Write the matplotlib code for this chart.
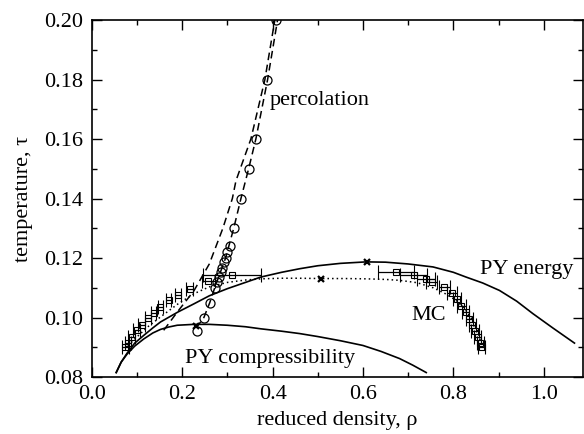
import matplotlib
matplotlib.use("Agg")
import matplotlib.pyplot as plt
from matplotlib.ticker import MultipleLocator

plt.rcParams['font.family'] = ['Liberation Serif', 'DejaVu Serif']

# PY energy route (solid)
py_en_x = [0.054, 0.065, 0.078, 0.095, 0.115, 0.135, 0.152, 0.190, 0.226, 0.260, 0.300, 0.340, 0.374,
           0.420, 0.460, 0.500, 0.550, 0.607, 0.650, 0.700, 0.755, 0.800, 0.828, 0.865, 0.902,
           0.940, 0.976, 1.020, 1.068]
py_en_y = [0.0815, 0.0850, 0.0880, 0.0914, 0.0940, 0.0965, 0.0985, 0.1018, 0.1046, 0.1073, 0.1097,
           0.1118, 0.1136, 0.1152, 0.1164, 0.1174, 0.1182, 0.1187, 0.1186, 0.1180, 0.1170, 0.1152,
           0.1136, 0.1116, 0.1091, 0.1055, 0.1013, 0.0965, 0.0914]

# PY compressibility route (solid)
py_co_x = [0.054, 0.065, 0.078, 0.095, 0.115, 0.135, 0.152, 0.170, 0.189, 0.226, 0.260, 0.300,
           0.340, 0.374, 0.420, 0.460, 0.500, 0.550, 0.600, 0.640, 0.681, 0.710, 0.740]
py_co_y = [0.0815, 0.0850, 0.0877, 0.0904, 0.0928, 0.0948, 0.0960, 0.0968, 0.0974, 0.0977, 0.0977,
           0.0974, 0.0969, 0.0962, 0.0954, 0.0946, 0.0936, 0.0922, 0.0906, 0.0886, 0.0862, 0.0840,
           0.0815]

# MC fit (dotted)
mc_fit_x = [0.080, 0.100, 0.125, 0.152, 0.190, 0.226, 0.260, 0.300, 0.340, 0.374, 0.420, 0.460,
            0.508, 0.560, 0.607, 0.650, 0.681, 0.720, 0.755, 0.780, 0.806, 0.825, 0.843, 0.855, 0.861]
mc_fit_y = [0.0905, 0.0935, 0.0970, 0.1002, 0.1045, 0.1080, 0.1103, 0.1118, 0.1126, 0.1130, 0.1132,
            0.1132, 0.1131, 0.1131, 0.1130, 0.1128, 0.1125, 0.1117, 0.1100, 0.1082, 0.1058, 0.1030,
            0.0990, 0.0950, 0.0912]

# MC coexistence points with horizontal error bars
mc_x = [0.074, 0.080, 0.088, 0.099, 0.110, 0.124, 0.137, 0.152, 0.170, 0.191, 0.217, 0.258, 0.310,
        0.674, 0.712, 0.740, 0.752, 0.780, 0.797, 0.808, 0.818, 0.827, 0.835, 0.842, 0.848, 0.854,
        0.860, 0.863]
mc_y = [0.0902, 0.0915, 0.0935, 0.0957, 0.0976, 0.0997, 0.1015, 0.1037, 0.1058, 0.1077, 0.1096,
        0.1122, 0.1143,
        0.1152, 0.1142, 0.1130, 0.1120, 0.1102, 0.1082, 0.1062, 0.1040, 0.1018, 0.0996, 0.0975,
        0.0955, 0.0935, 0.0915, 0.0902]
mc_xerr = [0.008, 0.007, 0.007, 0.007, 0.007, 0.006, 0.006, 0.006, 0.006, 0.007, 0.008, 0.015, 0.065,
           0.040, 0.030, 0.020, 0.012, 0.012, 0.010, 0.009, 0.009, 0.008, 0.008, 0.008, 0.008, 0.008,
           0.008, 0.008]

# critical points
crit_x = [0.231, 0.508, 0.609]
crit_y = [0.0971, 0.1130, 0.1187]

# percolation points and fits (dashed)
perc_x = [0.233, 0.248, 0.261, 0.272, 0.277, 0.281, 0.285, 0.289, 0.293, 0.296, 0.300, 0.305,
          0.314, 0.330, 0.347, 0.363, 0.387, 0.407]
perc_y = [0.0955, 0.1000, 0.1049, 0.1100, 0.1120, 0.1136, 0.1153, 0.1168, 0.1187, 0.1200, 0.1220,
          0.1240, 0.1300, 0.1400, 0.1500, 0.1600, 0.1800, 0.2000]
perc1_x = [0.231, 0.248, 0.261, 0.272, 0.284, 0.296, 0.314, 0.330, 0.347, 0.363, 0.389, 0.411]
perc1_y = [0.0965, 0.1000, 0.1050, 0.1100, 0.1150, 0.1200, 0.1300, 0.1400, 0.1500, 0.1600, 0.1800, 0.2000]
perc2_x = [0.159, 0.190, 0.226, 0.260, 0.290, 0.311, 0.319, 0.352, 0.383, 0.405]
perc2_y = [0.0957, 0.1020, 0.1090, 0.1180, 0.1300, 0.1400, 0.1460, 0.1600, 0.1800, 0.2000]

fig = plt.figure(figsize=(5.84, 4.34), dpi=100)
ax = fig.add_axes([0.1572, 0.1313, 0.8412, 0.8226])

ax.plot(py_en_x, py_en_y, color='black', lw=1.2)
ax.plot(py_co_x, py_co_y, color='black', lw=1.2)
ax.plot(mc_fit_x, mc_fit_y, color='black', lw=1.1, linestyle=(0, (1, 2)))
ax.plot(perc1_x, perc1_y, color='black', lw=1.1, linestyle=(0, (5, 3)))
ax.plot(perc2_x, perc2_y, color='black', lw=1.1, linestyle=(0, (5, 3)))
ax.errorbar(mc_x, mc_y, xerr=mc_xerr, fmt='s', ms=4, mfc='none', mec='black', mew=0.8,
            ecolor='black', elinewidth=0.9, capsize=5, capthick=0.9)
ax.plot(perc_x, perc_y, 'o', ms=6.5, mfc='none', mec='black', mew=0.9)
ax.plot(crit_x, crit_y, 'x', ms=5, mec='black', mew=1.6)

ax.text(0.394, 0.173, 'percolation', fontsize=16, va='center')
ax.text(0.858, 0.1162, 'PY energy', fontsize=16, va='center')
ax.text(0.707, 0.1008, 'MC', fontsize=16, va='center')
ax.text(0.206, 0.0863, 'PY compressibility', fontsize=16, va='center')

ax.set_xlim(0, 1.087)
ax.set_ylim(0.08, 0.20)
ax.xaxis.set_major_locator(MultipleLocator(0.2))
ax.xaxis.set_minor_locator(MultipleLocator(0.1))
ax.yaxis.set_major_locator(MultipleLocator(0.02))
ax.yaxis.set_minor_locator(MultipleLocator(0.01))
ax.set_xticks([0.0, 0.2, 0.4, 0.6, 0.8, 1.0])
ax.set_xticklabels(['0.0', '0.2', '0.4', '0.6', '0.8', '1.0'])
ax.tick_params(which='both', direction='in', top=True, right=True, labelsize=16, width=1.0)
ax.tick_params(which='major', length=7, pad=6)
ax.tick_params(which='minor', length=3.5)
for s in ax.spines.values():
    s.set_linewidth(1.2)

ax.set_xlabel('reduced density, ρ', fontsize=16, labelpad=5)
ax.set_ylabel('temperature, τ', fontsize=16, labelpad=8)

fig.savefig('out.png', dpi=100)
